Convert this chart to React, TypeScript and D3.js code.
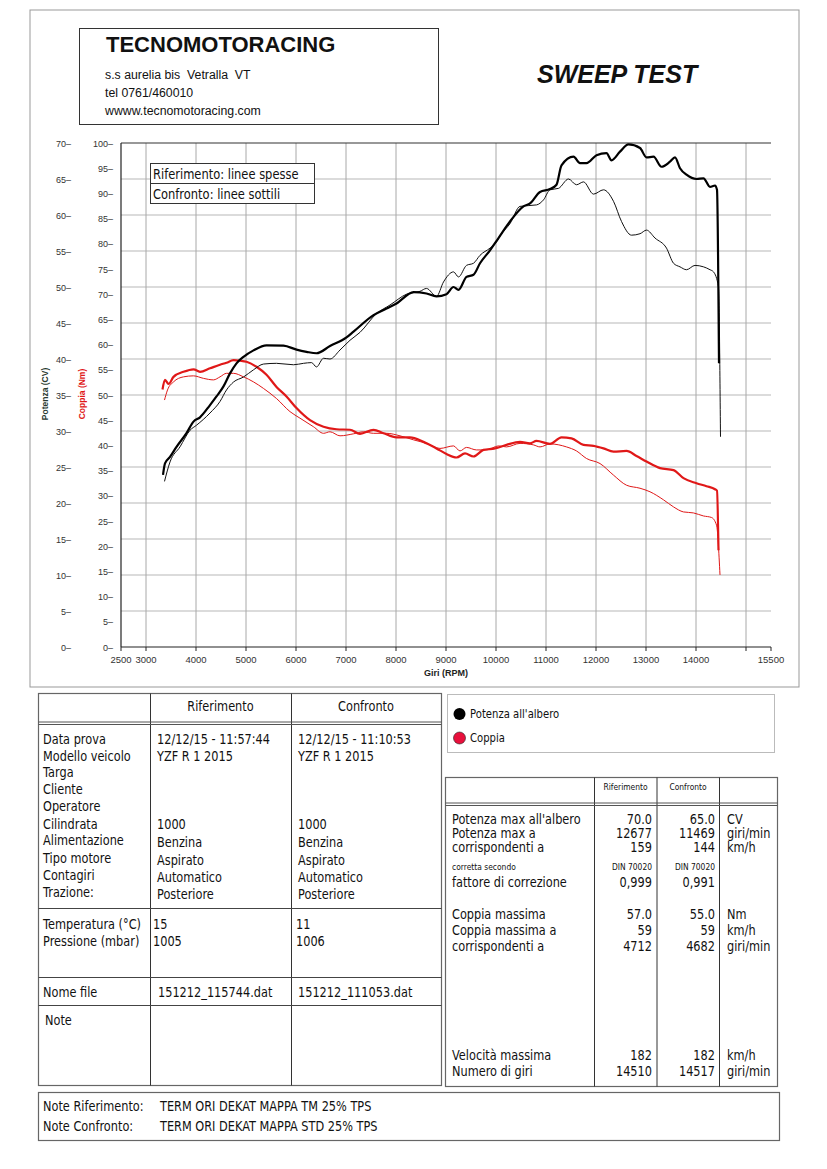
import * as d3 from 'd3';

// rpm, CV
const potenzaRif: [number, number][] = [
  [3340, 23.9], [3380, 25.5], [3480, 26.4], [3610, 27.8], [3810, 29.7], [3950, 31.3], [4080, 31.9],
  [4280, 33.6], [4410, 34.8], [4550, 36.2], [4680, 38.0], [4810, 39.4], [4950, 40.3], [5150, 41.2],
  [5410, 41.9], [5750, 41.85], [6010, 41.3], [6210, 41.0], [6410, 40.8], [6680, 41.8], [7010, 43.0],
  [7150, 43.8], [7550, 46.1], [7810, 47.0], [8010, 47.7], [8350, 49.3], [8610, 49.1], [8810, 48.7],
  [9010, 49.0], [9150, 50.0], [9250, 49.6], [9410, 51.4], [9550, 51.7], [9680, 53.3], [9880, 55.1],
  [10050, 56.8], [10280, 59.1], [10550, 61.2], [10680, 61.6], [10880, 63.2], [11080, 63.6], [11210, 64.2],
  [11310, 66.9], [11550, 68.1], [11680, 67.2], [11810, 67.2], [12010, 68.3], [12210, 68.6], [12310, 67.6],
  [12480, 68.8], [12650, 69.8], [12880, 69.3], [13010, 68.0], [13150, 68.1], [13310, 66.7], [13480, 67.4],
  [13580, 68.0], [13680, 66.5], [13810, 65.6], [14010, 65.0], [14150, 65.1], [14280, 63.9], [14380, 64.1],
  [14420, 63.5], [14460, 39.4],
];

const potenzaConf: [number, number][] = [
  [3370, 23.0], [3480, 25.7], [3680, 27.8], [3880, 30.1], [4010, 30.8], [4280, 32.5], [4480, 34.1],
  [4610, 35.7], [4750, 36.8], [4950, 37.5], [5150, 38.5], [5350, 39.3], [5610, 39.4], [5950, 39.2],
  [6150, 39.4], [6310, 39.5], [6410, 38.9], [6550, 40.1], [6680, 40.0], [6880, 41.25], [7080, 42.6],
  [7280, 43.7], [7610, 46.3], [7880, 47.5], [8210, 49.0], [8480, 49.4], [8610, 49.8], [8810, 48.7],
  [8950, 50.7], [9150, 52.1], [9250, 51.4], [9410, 53.0], [9550, 53.3], [9680, 54.4], [9880, 55.4],
  [9980, 56.0], [10110, 57.4], [10280, 58.8], [10480, 61.2], [10810, 61.4], [10950, 62.1], [11080, 63.5],
  [11250, 63.7], [11450, 65.0], [11610, 64.2], [11750, 64.6], [11950, 62.9], [12150, 63.5], [12350, 61.9],
  [12510, 59.1], [12710, 57.2], [12880, 57.4], [13010, 57.9], [13180, 56.8], [13410, 55.4], [13550, 53.3],
  [13680, 52.8], [13810, 52.4], [13980, 53.0], [14150, 52.8], [14280, 52.4], [14350, 52.1], [14450, 50.0],
  [14490, 29.2],
];

// rpm, Nm
const coppiaRif: [number, number][] = [
  [3330, 51.1], [3380, 53.0], [3450, 52.2], [3550, 53.6], [3750, 54.6], [3950, 55.1], [4080, 54.6],
  [4280, 55.3], [4480, 56.0], [4610, 56.4], [4750, 56.9], [4880, 56.8], [5010, 56.6], [5210, 55.6],
  [5410, 54.0], [5610, 51.6], [5810, 49.7], [6010, 47.4], [6280, 45.0], [6550, 43.7], [6810, 43.2],
  [7080, 43.1], [7280, 42.3], [7550, 43.1], [7750, 42.4], [8010, 41.6], [8280, 41.6], [8550, 40.7],
  [8810, 39.4], [9010, 38.3], [9210, 37.6], [9380, 38.4], [9550, 37.8], [9750, 39.1], [9980, 39.4],
  [10210, 40.1], [10480, 40.7], [10680, 40.4], [10810, 40.9], [11080, 40.3], [11310, 41.6], [11510, 41.4],
  [11750, 40.1], [11950, 39.9], [12150, 39.4], [12350, 38.75], [12610, 38.9], [12810, 37.9], [13010, 36.8],
  [13280, 35.5], [13550, 35.1], [13750, 33.5], [14010, 32.5], [14210, 31.9], [14380, 31.3], [14420, 31.0],
  [14450, 19.2],
];

const coppiaConf: [number, number][] = [
  [3370, 49.0], [3430, 51.0], [3550, 52.6], [3750, 53.6], [3950, 53.8], [4150, 53.3], [4350, 53.0],
  [4480, 53.6], [4610, 54.3], [4750, 54.3], [4950, 53.6], [5150, 52.6], [5350, 51.3], [5610, 49.3],
  [5880, 46.7], [6080, 45.4], [6350, 43.7], [6550, 42.4], [6680, 42.7], [6880, 41.9], [7150, 42.3],
  [7350, 42.7], [7550, 42.4], [7810, 42.4], [8080, 41.9], [8350, 41.1], [8610, 40.4], [8880, 39.4],
  [9150, 39.9], [9280, 38.9], [9410, 39.6], [9610, 39.1], [9810, 39.1], [10050, 39.9], [10210, 39.7],
  [10480, 40.4], [10750, 40.1], [10880, 39.7], [11080, 40.3], [11410, 39.7], [11610, 38.9], [11810, 37.4],
  [12080, 36.4], [12350, 34.1], [12610, 32.1], [12880, 31.5], [13080, 30.8], [13350, 29.2], [13550, 27.8],
  [13750, 26.8], [13950, 26.6], [14150, 26.0], [14310, 25.7], [14410, 24.2], [14480, 14.3],
];

const xTickLabels = [2500, 3000, 4000, 5000, 6000, 7000, 8000, 9000, 10000, 11000, 12000, 13000, 14000, 15500];
const xGrid = [3000, 4000, 5000, 6000, 7000, 8000, 9000, 10000, 11000, 12000, 13000, 14000, 15000];
const potenzaTicks = d3.range(0, 75, 5);
const coppiaTicks = d3.range(0, 105, 5);

const headerLines = ['s.s aurelia bis  Vetralla  VT', 'tel 0761/460010', 'wwww.tecnomotoracing.com'];

// left table: label, riferimento, confronto
const infoRows: [string, string, string][] = [
  ['Data prova', '12/12/15 - 11:57:44', '12/12/15 - 11:10:53'],
  ['Modello veicolo', 'YZF R 1 2015', 'YZF R 1 2015'],
  ['Targa', '', ''],
  ['Cliente', '', ''],
  ['Operatore', '', ''],
  ['Cilindrata', '1000', '1000'],
  ['Alimentazione', 'Benzina', 'Benzina'],
  ['Tipo motore', 'Aspirato', 'Aspirato'],
  ['Contagiri', 'Automatico', 'Automatico'],
  ['Trazione:', 'Posteriore', 'Posteriore'],
];
const ambientRows: [string, string, string][] = [
  ['Temperatura (°C)', '15', '11'],
  ['Pressione (mbar)', '1005', '1006'],
];
const fileRow: [string, string, string] = ['Nome file', '151212_115744.dat', '151212_111053.dat'];

// right table: label, riferimento, confronto, unit
const powerRows: [string, string, string, string][] = [
  ["Potenza max all'albero", '70.0', '65.0', 'CV'],
  ['Potenza max a', '12677', '11469', 'giri/min'],
  ['corrispondenti a', '159', '144', 'km/h'],
];
const correctionRow = ['corretta secondo', 'DIN 70020', 'DIN 70020'];
const factorRow = ['fattore di correzione', '0,999', '0,991'];
const torqueRows: [string, string, string, string][] = [
  ['Coppia massima', '57.0', '55.0', 'Nm'],
  ['Coppia massima a', '59', '59', 'km/h'],
  ['corrispondenti a', '4712', '4682', 'giri/min'],
];
const speedRows: [string, string, string, string][] = [
  ['Velocità massima', '182', '182', 'km/h'],
  ['Numero di giri', '14510', '14517', 'giri/min'],
];

const notes = [
  ['Note Riferimento:', 'TERM ORI DEKAT MAPPA TM 25% TPS'],
  ['Note Confronto:', 'TERM ORI DEKAT MAPPA STD 25% TPS'],
];

const TAB_FONT = '"DejaVu Sans", Verdana, sans-serif';
const ARIAL = '"Liberation Sans", Arial, sans-serif';
const RED = '#e01818';

function T({ x, y, children, size = 13.5, anchor = 'start', sx = 0.84, fill = '#111', weight = 'normal', family = TAB_FONT }: any) {
  return (
    <text
      transform={`translate(${x},${y}) scale(${sx},1)`}
      fontSize={size}
      textAnchor={anchor}
      fill={fill}
      fontWeight={weight}
      fontFamily={family}
      style={{ whiteSpace: 'pre' }}
    >
      {children}
    </text>
  );
}

export default function App() {
  const x = d3.scaleLinear().domain([2500, 15500]).range([121, 771]);
  const yP = d3.scaleLinear().domain([0, 70]).range([647, 143]);
  const yT = d3.scaleLinear().domain([0, 100]).range([647, 143]);

  const lineP = d3.line<[number, number]>().x((d) => x(d[0])).y((d) => yP(d[1])).curve(d3.curveMonotoneX);
  const lineT = d3.line<[number, number]>().x((d) => x(d[0])).y((d) => yT(d[1])).curve(d3.curveMonotoneX);

  const [x0, x1] = x.range();
  const [yb, yt] = yP.range();

  return (
    <div style={{ position: 'absolute', left: 0, top: 0 }}>
      <svg width={827} height={1169} style={{ display: 'block', background: '#fff' }}>
        {/* page frame */}
        <rect x={30} y={10} width={769} height={677} fill="none" stroke="#999" strokeWidth={1} />

        {/* header */}
        <rect x={79.5} y={28.5} width={359} height={96} fill="none" stroke="#333" strokeWidth={1} />
        <text x={106} y={52} fontFamily={ARIAL} fontWeight="bold" fontSize={22} fill="#111">
          TECNOMOTORACING
        </text>
        {headerLines.map((s, i) => (
          <text key={s} x={105} y={79 + i * 18} fontFamily={ARIAL} fontSize={12.3} fill="#111" style={{ whiteSpace: 'pre' }}>
            {s}
          </text>
        ))}
        <text x={537} y={83} fontFamily={ARIAL} fontWeight="bold" fontStyle="italic" fontSize={25} fill="#111">
          SWEEP TEST
        </text>

        {/* grid */}
        {potenzaTicks.filter((t) => t > 0 && t < 70).map((t) => (
          <line key={'h' + t} x1={x0} x2={x1} y1={yP(t)} y2={yP(t)} stroke="#cfcfcf" strokeWidth={1.4} />
        ))}
        {xGrid.map((t) => (
          <line key={'v' + t} x1={x(t)} x2={x(t)} y1={yt} y2={yb} stroke="#a8a8a8" strokeWidth={1} />
        ))}
        <line x1={x0} x2={x1} y1={yt} y2={yt} stroke="#333" strokeWidth={1.2} />
        <line x1={x0} x2={x0} y1={yt} y2={yb} stroke="#222" strokeWidth={1.2} />
        <line x1={x0} x2={x1} y1={yb} y2={yb} stroke="#222" strokeWidth={1.2} />

        {/* x ticks */}
        {[...xTickLabels, 15000].map((t) => (
          <line key={'xt' + t} x1={x(t)} x2={x(t)} y1={yb} y2={yb + 4} stroke="#222" strokeWidth={1} />
        ))}
        {xTickLabels.map((t) => (
          <text key={'xl' + t} x={x(t)} y={663} textAnchor="middle" fontFamily={ARIAL} fontSize={9.5} fill="#333">
            {t}
          </text>
        ))}
        <text x={446} y={676} textAnchor="middle" fontFamily={ARIAL} fontWeight="bold" fontSize={9} fill="#222">
          Giri (RPM)
        </text>

        {/* y ticks */}
        {potenzaTicks.map((t) => (
          <text key={'pl' + t} x={71} y={yP(t) + 3.5} textAnchor="end" fontFamily={ARIAL} fontSize={9} fill="#333">
            {t}–
          </text>
        ))}
        {coppiaTicks.map((t) => (
          <text key={'cl' + t} x={113} y={yT(t) + 3.5} textAnchor="end" fontFamily={ARIAL} fontSize={9} fill="#333">
            {t}–
          </text>
        ))}
        <text transform="translate(48,394) rotate(-90)" textAnchor="middle" fontFamily={ARIAL} fontWeight="bold" fontSize={8.5} fill="#2a3a30">
          Potenza (CV)
        </text>
        <text transform="translate(85,394) rotate(-90)" textAnchor="middle" fontFamily={ARIAL} fontWeight="bold" fontSize={8.5} fill={RED}>
          Coppia (Nm)
        </text>

        {/* curves */}
        <path d={lineT(coppiaConf) || ''} fill="none" stroke={RED} strokeWidth={1} />
        <path d={lineT(coppiaRif) || ''} fill="none" stroke={RED} strokeWidth={2.2} />
        <path d={lineP(potenzaConf) || ''} fill="none" stroke="#111" strokeWidth={1} />
        <path d={lineP(potenzaRif) || ''} fill="none" stroke="#000" strokeWidth={2.2} />

        {/* chart legend */}
        <rect x={150.5} y={163.5} width={164} height={40} fill="#fff" stroke="#333" strokeWidth={1} />
        <line x1={150.5} x2={314.5} y1={183.5} y2={183.5} stroke="#333" strokeWidth={1} />
        <T x={153} y={179} size={14} sx={0.82}>Riferimento: linee spesse</T>
        <T x={153} y={199} size={14} sx={0.82}>Confronto: linee sottili</T>

        {/* left table */}
        <rect x={38.5} y={693.5} width={403} height={392} fill="none" stroke="#666" strokeWidth={1.2} />
        <line x1={150.5} x2={150.5} y1={693.5} y2={1085.5} stroke="#333" strokeWidth={1} />
        <line x1={291.5} x2={291.5} y1={693.5} y2={1085.5} stroke="#333" strokeWidth={1} />
        <line x1={38.5} x2={441.5} y1={722} y2={722} stroke="#555" strokeWidth={1} />
        <line x1={38.5} x2={441.5} y1={724.5} y2={724.5} stroke="#555" strokeWidth={1} />
        {[908.5, 977.5, 1005.5].map((yy) => (
          <line key={'lt' + yy} x1={38.5} x2={441.5} y1={yy} y2={yy} stroke="#444" strokeWidth={1} />
        ))}
        <T x={220.5} y={711} anchor="middle">Riferimento</T>
        <T x={366} y={711} anchor="middle">Confronto</T>
        {infoRows.map((r, i) => {
          const yy = [744, 761, 777, 794, 811, 829, 845, 863, 880, 897][i];
          const dv = i >= 6 ? 2 : 0;
          return (
            <g key={r[0]}>
              <T x={43} y={yy}>{r[0]}</T>
              <T x={157} y={yy + dv}>{r[1]}</T>
              <T x={298} y={yy + dv}>{r[2]}</T>
            </g>
          );
        })}
        {ambientRows.map((r, i) => (
          <g key={r[0]}>
            <T x={43} y={929 + i * 17}>{r[0]}</T>
            <T x={153} y={929 + i * 17}>{r[1]}</T>
            <T x={296} y={929 + i * 17}>{r[2]}</T>
          </g>
        ))}
        <T x={43} y={997}>{fileRow[0]}</T>
        <T x={158} y={997}>{fileRow[1]}</T>
        <T x={298} y={997}>{fileRow[2]}</T>
        <T x={45} y={1025}>Note</T>

        {/* notes */}
        <rect x={38.5} y={1092.5} width={741} height={48} fill="none" stroke="#666" strokeWidth={1.2} />
        {notes.map((n, i) => (
          <g key={n[0]}>
            <T x={43} y={1111 + i * 20}>{n[0]}</T>
            <T x={160} y={1111 + i * 20}>{n[1]}</T>
          </g>
        ))}

        {/* series legend */}
        <rect x={447.5} y={694.5} width={327} height={58} fill="none" stroke="#bbb" strokeWidth={1} />
        <circle cx={459.5} cy={714} r={6} fill="#000" />
        <circle cx={459.5} cy={738} r={6} fill="#e8103c" stroke="#222" strokeWidth={0.6} />
        <T x={470} y={718} size={12}>Potenza all'albero</T>
        <T x={470} y={742} size={12}>Coppia</T>

        {/* right table */}
        <rect x={445.5} y={777.5} width={332} height={309} fill="none" stroke="#666" strokeWidth={1.2} />
        {[594.5, 657, 719.5].map((xx) => (
          <line key={'rv' + xx} x1={xx} x2={xx} y1={777.5} y2={1086.5} stroke="#333" strokeWidth={1} />
        ))}
        <line x1={445.5} x2={777.5} y1={803} y2={803} stroke="#555" strokeWidth={1} />
        <line x1={445.5} x2={777.5} y1={805.5} y2={805.5} stroke="#555" strokeWidth={1} />
        <T x={625.5} y={790} anchor="middle" size={9}>Riferimento</T>
        <T x={688} y={790} anchor="middle" size={9}>Confronto</T>
        {[...powerRows.map((r, i) => ({ r, y: 824 + i * 14 })), ...torqueRows.map((r, i) => ({ r, y: 919 + i * 16 })), ...speedRows.map((r, i) => ({ r, y: 1060 + i * 16 }))].map(({ r, y }) => (
          <g key={r[0] + y}>
            <T x={452} y={y}>{r[0]}</T>
            <T x={652} y={y} anchor="end">{r[1]}</T>
            <T x={715} y={y} anchor="end">{r[2]}</T>
            <T x={727} y={y}>{r[3]}</T>
          </g>
        ))}
        <T x={452} y={870} size={9}>{correctionRow[0]}</T>
        <T x={652} y={870} size={9} anchor="end">{correctionRow[1]}</T>
        <T x={715} y={870} size={9} anchor="end">{correctionRow[2]}</T>
        <T x={452} y={887}>{factorRow[0]}</T>
        <T x={652} y={887} anchor="end">{factorRow[1]}</T>
        <T x={715} y={887} anchor="end">{factorRow[2]}</T>
      </svg>
    </div>
  );
}
